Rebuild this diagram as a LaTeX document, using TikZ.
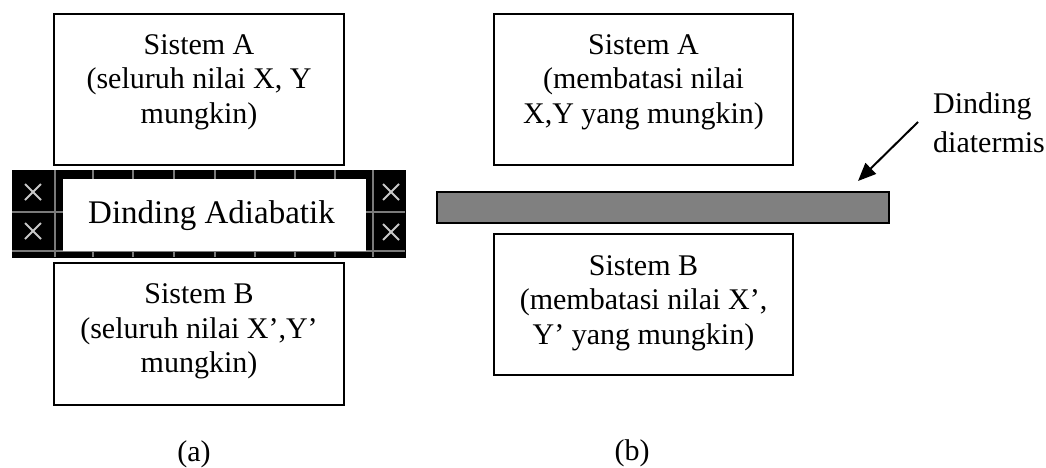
\documentclass[tikz,border=0pt]{standalone}
\usepackage{fontspec}
\setmainfont{Liberation Serif}
\usetikzlibrary{arrows.meta}
\definecolor{bargray}{HTML}{808080}
\definecolor{gridgray}{HTML}{7A7A7A}
\definecolor{crossgray}{HTML}{C8C8C8}
\begin{document}
\begin{tikzpicture}[x=1pt,y=-1pt,
  sysbox/.style={draw=black, line width=1.8pt, fill=white, inner sep=0pt},
  systext/.style={align=center, inner sep=0pt, font=\fontsize{30}{34.5}\selectfont},
  gridline/.style={draw=gridgray, line width=1.2pt},
  crossline/.style={draw=crossgray, line width=2pt},
  ptr/.style={line width=2pt, -{Triangle[length=18pt,width=15pt]}}]
\useasboundingbox (0,0) rectangle (1046,468);

% (a) left side
\node[sysbox, minimum width=290pt, minimum height=151pt] (boxAa) at (199,89.5) {};
\node[systext] (txtAa) at (199,82) {Sistem A\\(seluruh nilai X, Y\\mungkin)};

\node[draw=black, fill=black, line width=0.8pt, inner sep=0pt, minimum width=393pt, minimum height=87pt] (wallA) at (208.5,213.5) {};
\draw[gridline] (55,170) -- (55,257);
\draw[gridline] (373,170) -- (373,257);
\draw[gridline] (12,212) -- (63,212);
\draw[gridline] (366,212) -- (405,212);
\draw[gridline] (12,251) -- (405,251);
\foreach \tx in {93,133,174,215,255,295,335} {
  \draw[gridline] (\tx,170) -- (\tx,179);
  \draw[gridline] (\tx,251) -- (\tx,257);
}
\foreach \cx/\cy in {33/192, 33/231, 391/192, 391/232} {
  \draw[crossline] ({\cx-8},{\cy-8}) -- ({\cx+8},{\cy+8});
  \draw[crossline] ({\cx-8},{\cy+8}) -- ({\cx+8},{\cy-8});
}
\node[fill=white, inner sep=0pt, minimum width=303pt, minimum height=72pt] (wallAin) at (214.5,215) {};
\node[inner sep=0pt, font=\fontsize{33}{38}\selectfont] (wallAtxt) at (211.5,215.5) {Dinding Adiabatik};

\node[sysbox, minimum width=290pt, minimum height=142pt] (boxBa) at (199,334) {};
\node[systext] (txtBa) at (199,331.7) {Sistem B\\(seluruh nilai X’,Y’\\mungkin)};

\node[systext] (capA) at (194,454) {(a)};

% (b) right side
\node[sysbox, minimum width=299pt, minimum height=151pt] (boxAb) at (643.5,89.5) {};
\node[systext] (txtAb) at (643.5,82) {Sistem A\\(membatasi nilai\\X,Y yang mungkin)};

\node[draw=black, line width=2pt, fill=bargray, inner sep=0pt, minimum width=452pt, minimum height=31pt] (wallB) at (663,207.5) {};

\node[sysbox, minimum width=299pt, minimum height=141pt] (boxBb) at (643.5,304.5) {};
\node[systext] (txtBb) at (643.5,303) {Sistem B\\(membatasi nilai X’,\\Y’ yang mungkin)};

\node[anchor=west, align=left, inner sep=0pt, font=\fontsize{30}{39}\selectfont] (lblB) at (933,122.5) {Dinding\\diatermis};
\coordinate (tailB) at (918,122);
\coordinate (tipB) at (858,181);
\draw[ptr] (tailB) -- (tipB);

\node[systext] (capB) at (632,453) {(b)};
\end{tikzpicture}
\end{document}
